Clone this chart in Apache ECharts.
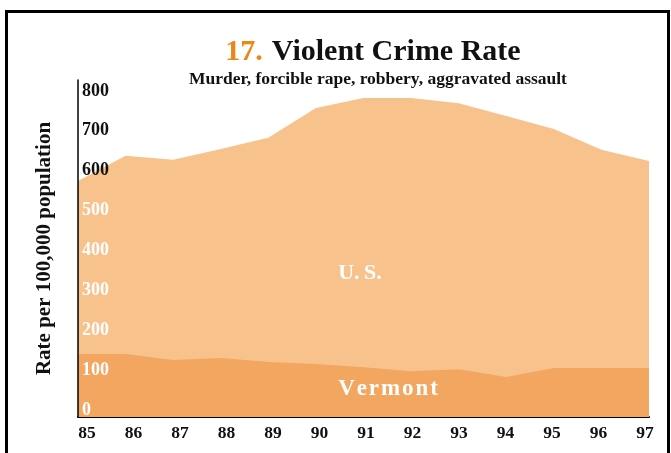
<!DOCTYPE html>
<html>
<head>
<meta charset="utf-8">
<script src="https://cdn.jsdelivr.net/npm/echarts@6/dist/echarts.min.js"></script>
<style>
  html, body { margin: 0; padding: 0; background: #fff; }
  #chart { width: 671px; height: 453px; }
</style>
</head>
<body>
<div id="chart"></div>
<script>
// Violent crime rate per 100,000 population, 1985-1997
const years = ['85', '86', '87', '88', '89', '90', '91', '92', '93', '94', '95', '96', '97'];
const usRate = [592, 655, 645, 672, 700, 775, 800, 800, 787, 755, 722, 670, 642];
const vermontRate = [158, 158, 143, 148, 138, 133, 125, 115, 120, 100, 123, 123, 123];

const SERIF = '"Liberation Serif", "Times New Roman", serif';
const US_FILL = '#f7c28b';
const VT_FILL = '#f2a65f';

const chart = echarts.init(document.getElementById('chart'), null, { renderer: 'canvas' });

chart.setOption({
  animation: false,
  backgroundColor: '#ffffff',
  grid: [
    { left: 78, right: 22, top: 80, bottom: 36 },
    // label-only band for the year labels
    { left: 87, right: 26, top: 80, bottom: 36 }
  ],
  xAxis: [
    {
      type: 'category', gridIndex: 0, data: years, boundaryGap: false,
      axisLine: { show: true, lineStyle: { color: '#000', width: 2 } },
      axisTick: { show: false },
      axisLabel: { show: false },
      splitLine: { show: false }
    },
    {
      type: 'category', gridIndex: 1, data: years, boundaryGap: false,
      axisLine: { show: false },
      axisTick: { show: false },
      axisLabel: {
        show: true, margin: 7, color: '#111',
        fontFamily: SERIF, fontWeight: 'bold', fontSize: 17.5
      },
      splitLine: { show: false }
    }
  ],
  yAxis: [
    {
      type: 'value', gridIndex: 0, min: 0, max: 845, interval: 100,
      name: 'Rate per 100,000 population',
      nameLocation: 'middle', nameRotate: 90, nameGap: 23,
      nameTextStyle: { fontFamily: SERIF, fontWeight: 'bold', fontSize: 21, color: '#111' },
      axisLine: { show: true, lineStyle: { color: '#000', width: 1.5 } },
      axisTick: { show: false },
      splitLine: { show: false },
      axisLabel: {
        inside: true, margin: 4, verticalAlign: 'bottom', lineHeight: 14,
        showMaxLabel: false,
        fontFamily: SERIF, fontWeight: 'bold', fontSize: 18,
        color: (v) => (Number(v) >= 600 ? '#111' : '#ffffff')
      },
      z: 5
    },
    { type: 'value', gridIndex: 1, show: false, min: 0, max: 845 }
  ],
  series: [
    {
      name: 'U.S.', type: 'line', xAxisIndex: 0, yAxisIndex: 0,
      data: usRate, symbol: 'none', smooth: false,
      lineStyle: { width: 0 }, areaStyle: { color: US_FILL, opacity: 1 }, z: 1
    },
    {
      name: 'Vermont', type: 'line', xAxisIndex: 0, yAxisIndex: 0,
      data: vermontRate, symbol: 'none', smooth: false,
      lineStyle: { width: 0 }, areaStyle: { color: VT_FILL, opacity: 1 }, z: 2
    }
  ],
  graphic: [
    // outer frame
    {
      type: 'rect', z: 100, silent: true,
      shape: { x: 6.5, y: 11.5, width: 662, height: 470 },
      style: { fill: 'none', stroke: '#000', lineWidth: 3 }
    },
    {
      type: 'text', z: 100, x: 373, y: 52,
      style: {
        text: '{n|17.}{t|Violent Crime Rate}', align: 'center', verticalAlign: 'middle',
        rich: {
          n: { fontFamily: SERIF, fontWeight: 'bold', fontSize: 30, fill: '#ee8616', padding: [0, 9, 0, 0] },
          t: { fontFamily: SERIF, fontWeight: 'bold', fontSize: 30, fill: '#111' }
        }
      }
    },
    {
      type: 'text', z: 100, x: 378, y: 79,
      style: {
        text: 'Murder, forcible rape, robbery, aggravated assault',
        align: 'center', verticalAlign: 'middle',
        fontFamily: SERIF, fontWeight: 'bold', fontSize: 17.5, fill: '#111'
      }
    },
    {
      type: 'text', z: 100, x: 360, y: 273,
      style: {
        text: 'U.\u2009S.', align: 'center', verticalAlign: 'middle',
        fontFamily: SERIF, fontWeight: 'bold', fontSize: 22, fill: '#ffffff'
      }
    },
    {
      type: 'text', z: 100, x: 388, y: 389,
      style: {
        text: 'V\u200Ae\u200Ar\u200Am\u200Ao\u200An\u200At', align: 'center', verticalAlign: 'middle',
        fontFamily: SERIF, fontWeight: 'bold', fontSize: 23, fill: '#ffffff'
      }
    }
  ]
});
</script>
</body>
</html>
